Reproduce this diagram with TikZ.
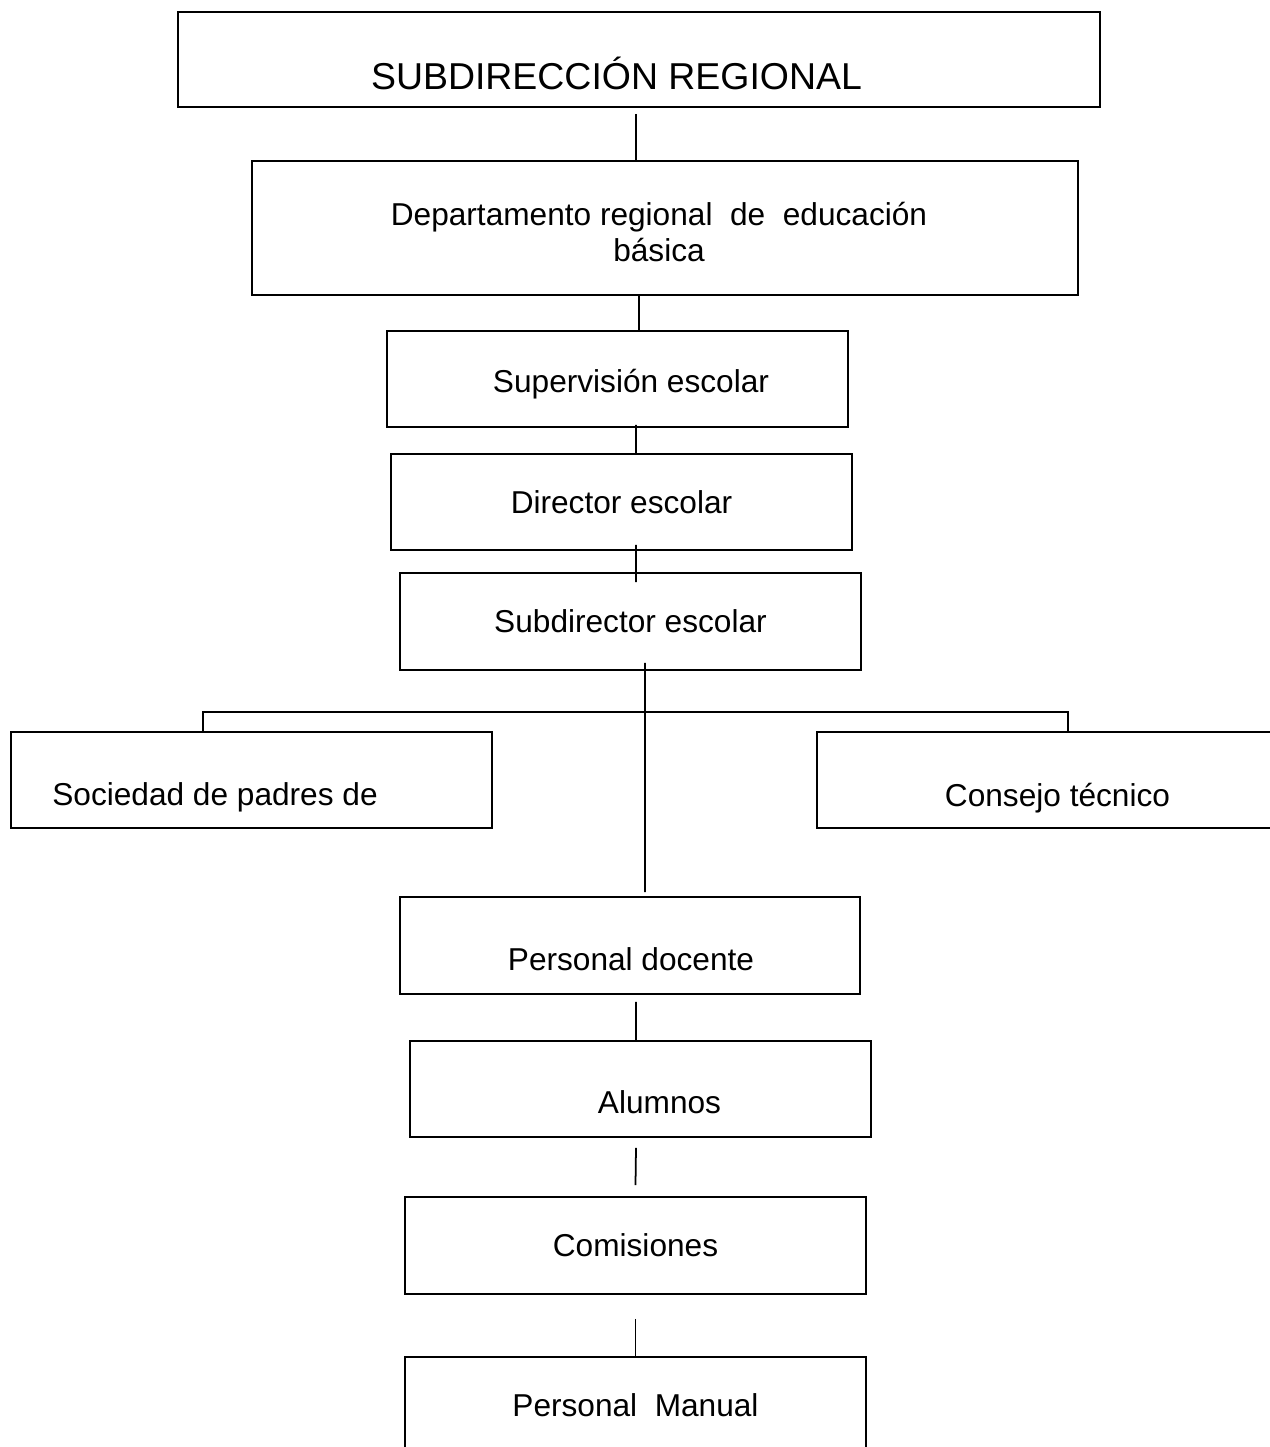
\documentclass[tikz,border=0pt]{standalone}
\usepackage{fontspec}
\setmainfont{Liberation Sans}
\usepackage{tikz}

\begin{document}
\begin{tikzpicture}[caja/.style={rectangle,draw,line width=1.1pt,inner sep=0pt,minimum width=9.22cm,minimum height=1.92cm},
texto/.style={inner sep=0pt,text height=12.9pt,text depth=0pt,font=\fontsize{18}{20.4}\selectfont},
linea/.style={line width=1pt}]
\useasboundingbox (0,0) rectangle (25.4,-28.94);
\path (12.78,-1.19) node(a)[caja,minimum width=18.44cm,minimum height=1.9cm,label={[texto,text height=15.25pt,font=\fontsize{21.3}{24}\selectfont,xshift=-0.45cm,yshift=-0.33cm]center:SUBDIRECCIÓN REGIONAL}]{}
(13.3,-4.56) node(b)[caja,minimum width=16.52cm,minimum height=2.68cm,label={[texto,text height=,text depth=,align=center,xshift=-0.12cm,yshift=-0.08cm]center:Departamento regional\ \ de\ \ educación\\básica}]{}
(12.35,-7.58) node(c)[caja,label={[texto,xshift=0.27cm,yshift=-0.05cm]center:Supervisión escolar}]{}
(12.43,-10.04) node(d)[caja,label={[texto]center:Director escolar}]{}
(12.61,-12.43) node(e)[caja,minimum height=1.94cm,label={[texto]center:Subdirector escolar}]{}
(5.03,-15.6) node(f)[caja,minimum width=9.62cm,label={[texto,xshift=-0.73cm,yshift=-0.28cm]center:Sociedad de padres de}]{}
(21.07,-15.6) node(g)[caja,minimum width=9.46cm,label={[texto,xshift=0.08cm,yshift=-0.3cm]center:Consejo técnico}]{}
(12.6,-18.91) node(h)[caja,minimum width=9.2cm,minimum height=1.94cm,label={[texto,xshift=0.02cm,yshift=-0.27cm]center:Personal docente}]{}
(12.81,-21.78) node(i)[caja,label={[texto,xshift=0.38cm,yshift=-0.26cm]center:Alumnos}]{}
(12.71,-24.91) node(j)[caja,minimum height=1.94cm,label={[texto]center:Comisiones}]{}
(12.71,-28.1) node(k)[caja,label={[texto]center:Personal\ \ Manual}]{};
\draw[linea]([xshift=-0.06cm,yshift=-0.12cm]a.south)--([xshift=-0.58cm]b.north);
\draw[linea]([xshift=-0.52cm]b.south)--([xshift=0.43cm]c.north);
\draw[linea]([xshift=0.37cm,yshift=0.06cm]c.south)--([xshift=0.29cm]d.north);
\draw[linea]([xshift=0.29cm,yshift=0.12cm]d.south)--([xshift=0.11cm,yshift=-0.2cm]e.north);
\draw[linea]([xshift=0.29cm,yshift=0.16cm]e.south)--([xshift=0.3cm,yshift=0.08cm]h.north);
\draw[linea,line width=1.5pt]([xshift=-0.97cm]f.north)--++(0,0.38)-|([xshift=0.29cm]g.north);
\draw[linea]([xshift=0.12cm,yshift=-0.14cm]h.south)--([xshift=-0.09cm]i.north);
\draw[linea]([xshift=-0.09cm,yshift=-0.2cm]i.south)--([yshift=0.22cm]j.north);
\draw[linea]([yshift=-0.48cm]j.south)--(k.north);
\end{tikzpicture}
\end{document}
